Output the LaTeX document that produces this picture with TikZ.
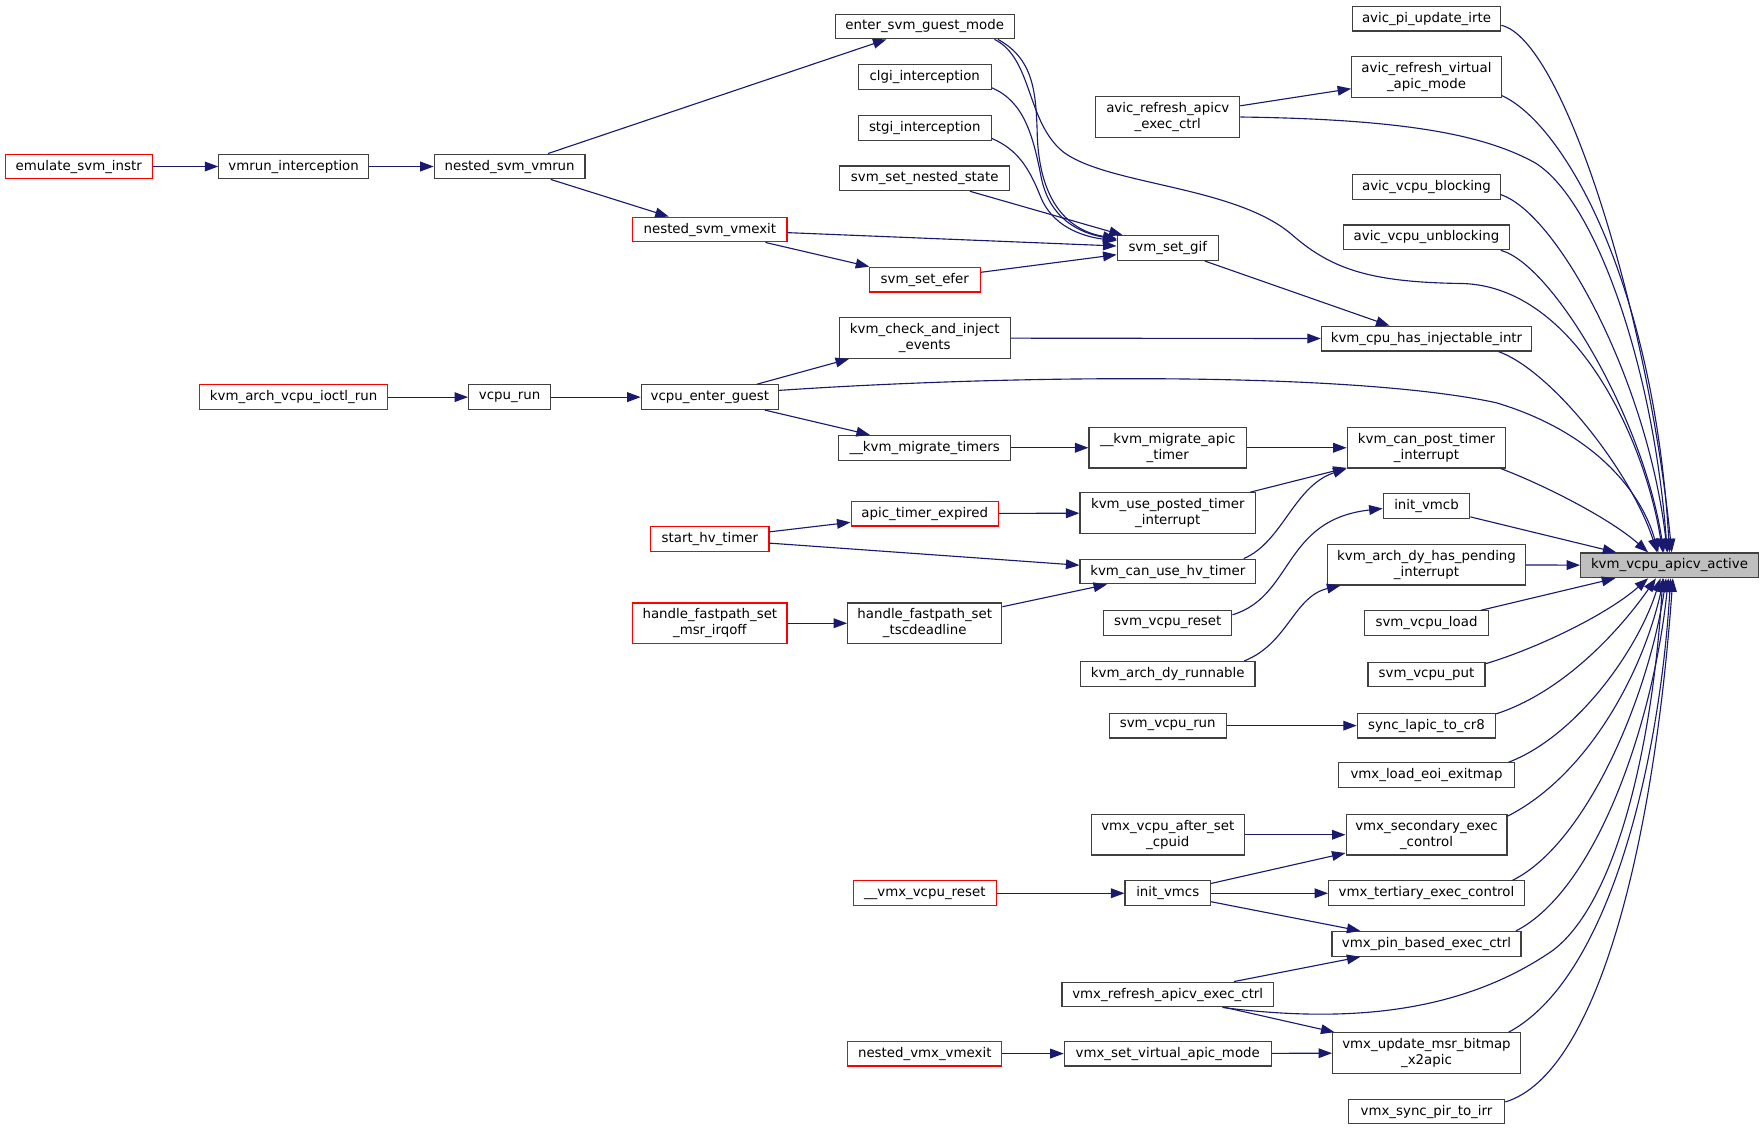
\documentclass[tikz,border=0pt]{standalone}
\usepackage{fontspec}
\setmainfont{DejaVu Sans}
\usetikzlibrary{arrows.meta,calc}
\definecolor{edgec}{RGB}{25,25,112}
\definecolor{boxc}{RGB}{64,64,64}
\definecolor{graybg}{RGB}{191,191,191}
\newcommand{\nodefont}{\fontsize{8.9pt}{10.5pt}\selectfont}
\tikzset{
  box/.style={draw=boxc, line width=0.75pt, fill=white, inner sep=0pt, align=center, font=\nodefont, minimum height=16.5pt, text=black},
  redbox/.style={box, draw=red},
  tall/.style={minimum height=27pt},
  bw/.style={minimum width=#1*0.75pt},
  conn/.style={draw=edgec, line width=0.75pt, -{Triangle[length=9pt,width=6.5pt]}},
}
\begin{document}
\begin{tikzpicture}[x=0.75pt,y=-0.75pt]
\useasboundingbox (0,0) rectangle (1568,1005.3);
% target
\node[box,bw=158,fill=graybg] (apicv) at (1484,502.5) {kvm\_vcpu\_apicv\_active};
% right column
\node[box,bw=132] (pi) at (1268,16.5) {avic\_pi\_update\_irte};
\node[box,bw=133,tall] (arvam) at (1268,68.5) {avic\_refresh\_virtual\\\_apic\_mode};
\node[box,bw=131] (blk) at (1268,166) {avic\_vcpu\_blocking};
\node[box,bw=147] (unblk) at (1268,211) {avic\_vcpu\_unblocking};
\node[box,bw=187] (inj) at (1268,301) {kvm\_cpu\_has\_injectable\_intr};
\node[box,bw=141,tall] (canpost) at (1268,398) {kvm\_can\_post\_timer\\\_interrupt};
\node[box,bw=77] (vmcb) at (1268,450) {init\_vmcb};
\node[box,bw=176,tall] (dypend) at (1268,502) {kvm\_arch\_dy\_has\_pending\\\_interrupt};
\node[box,bw=110] (load) at (1268,554) {svm\_vcpu\_load};
\node[box,bw=104] (put) at (1268,599.5) {svm\_vcpu\_put};
\node[box,bw=123] (cr8) at (1268,645) {sync\_lapic\_to\_cr8};
\node[box,bw=157] (eoi) at (1268,689) {vmx\_load\_eoi\_exitmap};
\node[box,bw=143,tall] (sec) at (1268,742) {vmx\_secondary\_exec\\\_control};
\node[box,bw=174] (ter) at (1268,794) {vmx\_tertiary\_exec\_control};
\node[box,bw=168] (pin) at (1268,839) {vmx\_pin\_based\_exec\_ctrl};
\node[box,bw=167,tall] (x2) at (1268,936) {vmx\_update\_msr\_bitmap\\\_x2apic};
\node[box,bw=139] (pir) at (1268,988) {vmx\_sync\_pir\_to\_irr};
% middle-right column
\node[box,bw=128,tall] (arac) at (1038,104) {avic\_refresh\_apicv\\\_exec\_ctrl};
\node[box,bw=90] (gif) at (1038,220.5) {svm\_set\_gif};
\node[box,bw=140,tall] (mapic) at (1038,398) {\_\_kvm\_migrate\_apic\\\_timer};
\node[box,bw=156,tall] (posted) at (1038,456) {kvm\_use\_posted\_timer\\\_interrupt};
\node[box,bw=156] (canhv) at (1038,508) {kvm\_can\_use\_hv\_timer};
\node[box,bw=114] (vreset) at (1038,553.5) {svm\_vcpu\_reset};
\node[box,bw=155] (dyrun) at (1038,599) {kvm\_arch\_dy\_runnable};
\node[box,bw=104] (vrun) at (1038,645) {svm\_vcpu\_run};
\node[box,bw=136,tall] (cpuid) at (1038,742) {vmx\_vcpu\_after\_set\\\_cpuid};
\node[box,bw=76] (vmcs) at (1038,794) {init\_vmcs};
\node[box,bw=188] (vrac) at (1038,884) {vmx\_refresh\_apicv\_exec\_ctrl};
\node[box,bw=184] (vsvam) at (1038,936.5) {vmx\_set\_virtual\_apic\_mode};
% middle column
\node[box,bw=159] (enter) at (822,23.5) {enter\_svm\_guest\_mode};
\node[box,bw=118] (clgi) at (822,68.5) {clgi\_interception};
\node[box,bw=118] (stgi) at (822,113.5) {stgi\_interception};
\node[box,bw=151] (nstate) at (822,158.5) {svm\_set\_nested\_state};
\node[redbox,bw=99] (efer) at (822,248.5) {svm\_set\_efer};
\node[box,bw=152,tall] (check) at (822,300.5) {kvm\_check\_and\_inject\\\_events};
\node[box,bw=153] (mtimers) at (822,398) {\_\_kvm\_migrate\_timers};
\node[redbox,bw=131] (ate) at (822,456.5) {apic\_timer\_expired};
\node[box,bw=137,tall] (tsc) at (822,554) {handle\_fastpath\_set\\\_tscdeadline};
\node[redbox,bw=127] (vxreset) at (822,794) {\_\_vmx\_vcpu\_reset};
\node[redbox,bw=137] (nvx) at (822,936.5) {nested\_vmx\_vmexit};
% column 631
\node[redbox,bw=137] (nsvmexit) at (631,204) {nested\_svm\_vmexit};
\node[box,bw=122] (veg) at (631,353) {vcpu\_enter\_guest};
\node[redbox,bw=105] (shv) at (631,479) {start\_hv\_timer};
\node[redbox,bw=137,tall] (msrirq) at (631,554) {handle\_fastpath\_set\\\_msr\_irqoff};
% column 453
\node[box,bw=134] (nsvmrun) at (453,148) {nested\_svm\_vmrun};
\node[box,bw=73] (vcpurun) at (453,353) {vcpu\_run};
% column 261
\node[box,bw=133] (vmrun) at (261,148) {vmrun\_interception};
\node[redbox,bw=167] (ioctl) at (261,353) {kvm\_arch\_vcpu\_ioctl\_run};
% column 70
\node[redbox,bw=131] (emu) at (70,148) {emulate\_svm\_instr};

% straight connectors
\draw[conn] (emu) -- (vmrun);
\draw[conn] (vmrun) -- (nsvmrun);
\draw[conn] (nsvmrun) -- (enter);
\draw[conn] (nsvmrun) -- (nsvmexit);
\draw[conn] (nstate) -- (gif);
\draw[conn] (nsvmexit) -- (gif);
\draw[conn] (nsvmexit) -- (efer);
\draw[conn] (efer) -- (gif);
\draw[conn] (gif) -- (inj);
\draw[conn] (arac) -- (arvam);
\draw[conn] (check) -- (inj);
\draw[conn] (veg) -- (check);
\draw[conn] (veg) -- (mtimers);
\draw[conn] (ioctl) -- (vcpurun);
\draw[conn] (vcpurun) -- (veg);
\draw[conn] (mtimers) -- (mapic);
\draw[conn] (mapic) -- (canpost);
\draw[conn] (posted) -- (canpost);
\draw[conn] (ate) -- (posted);
\draw[conn] (shv) -- (ate);
\draw[conn] (shv) -- (canhv);
\draw[conn] (msrirq) -- (tsc);
\draw[conn] (tsc) -- (canhv);
\draw[conn] (vrun) -- (cr8);
\draw[conn] (cpuid) -- (sec);
\draw[conn] (vmcs) -- (sec);
\draw[conn] (vmcs) -- (ter);
\draw[conn] (vmcs) -- (pin);
\draw[conn] (vxreset) -- (vmcs);
\draw[conn] (vrac) -- (pin);
\draw[conn] (vrac) -- (x2);
\draw[conn] (vsvam) -- (x2);
\draw[conn] (nvx) -- (vsvam);
\draw[conn] (vmcb) -- (apicv);
\draw[conn] (dypend) -- (apicv);
\draw[conn] (load) -- (apicv);

% curved connectors
\draw[conn] ($(enter.south)+(65,0)$) .. controls (918,52) and (921,80) .. (922,120)
  .. controls (924,180) and (950,205) .. ($(gif.north west)+(0,3)$);
\draw[conn] ($(enter.south)+(62,0)$) .. controls (918,52) and (912,108) .. (945,135)
  .. controls (985,165) and (1100,165) .. (1150,210)
  .. controls (1185,240) and (1220,251) .. (1300,252)
  .. controls (1400,255) and (1462,390) .. ($(apicv.north)+(-6,0)$);
\draw[conn] ($(clgi.south east)+(0,-2)$) .. controls (910,90) and (918,120) .. (925,155)
  .. controls (932,195) and (960,207) .. ($(gif.north west)+(0,4)$);
\draw[conn] ($(stgi.south east)+(0,-2)$) .. controls (905,133) and (915,150) .. (925,175)
  .. controls (935,200) and (960,210) .. ($(gif.north west)+(0,5)$);
\draw[conn] (arac.east) .. controls (1250,106) and (1320,120) .. (1365,145)
  .. controls (1420,180) and (1470,330) .. ($(apicv.north)+(-2,0)$);
\draw[conn] ($(veg.east)+(0,-6)$) .. controls (900,333) and (1200,330) .. (1330,358)
  .. controls (1420,385) and (1460,440) .. ($(apicv.north)+(-10,0)$);
\draw[conn] ($(canhv.north east)+(-11,0)$) .. controls (1140,482) and (1150,432) .. (canpost.south west);
\draw[conn] ($(vreset.east)+(0,-7)$) .. controls (1150,530) and (1140,462) .. ($(vmcb.west)+(0,2)$);
\draw[conn] ($(dyrun.north east)+(-10,0)$) .. controls (1145,572) and (1150,530) .. ($(dypend.south west)+(12,0)$);
\draw[conn] ($(vrac.south east)+(-46,0)$) .. controls (1200,910) and (1300,900) .. (1380,845)
  .. controls (1440,800) and (1470,650) .. ($(apicv.south)+(-6,0)$);
% right column to target
\draw[conn] ($(pi.east)+(0,6)$) .. controls (1390,35) and (1465,280) .. ($(apicv.north)+(2,0)$);
\draw[conn] ($(arvam.south east)+(0,-2)$) .. controls (1390,110) and (1470,250) .. (apicv.north);
\draw[conn] ($(blk.east)+(0,7)$) .. controls (1385,190) and (1465,340) .. ($(apicv.north)+(-2,0)$);
\draw[conn] ($(unblk.south east)+(-8,0)$) .. controls (1380,235) and (1460,370) .. ($(apicv.north)+(-5,0)$);
\draw[conn] ($(inj.south east)+(-30,0)$) .. controls (1380,330) and (1450,420) .. ($(apicv.north)+(-11,0)$);
\draw[conn] ($(canpost.south east)+(-5,0)$) .. controls (1370,430) and (1430,460) .. ($(apicv.north)+(-19,0)$);
\draw[conn] ($(put.north east)+(0,2)$) .. controls (1370,575) and (1430,545) .. ($(apicv.south)+(-19,0)$);
\draw[conn] ($(cr8.north east)+(0,1)$) .. controls (1390,615) and (1440,560) .. ($(apicv.south)+(-12,0)$);
\draw[conn] ($(eoi.north east)+(-6,0)$) .. controls (1400,655) and (1455,580) .. ($(apicv.south)+(-8,0)$);
\draw[conn] ($(sec.north east)+(0,2)$) .. controls (1410,690) and (1460,600) .. ($(apicv.south)+(-5,0)$);
\draw[conn] ($(ter.north east)+(-11,0)$) .. controls (1410,750) and (1465,620) .. ($(apicv.south)+(-3,0)$);
\draw[conn] ($(pin.north east)+(-5,0)$) .. controls (1420,790) and (1470,640) .. ($(apicv.south)+(-1,0)$);
\draw[conn] ($(x2.north east)+(-11,0)$) .. controls (1430,870) and (1475,680) .. ($(apicv.south)+(1,0)$);
\draw[conn] ($(pir.north east)+(0,3)$) .. controls (1420,955) and (1470,750) .. ($(apicv.south)+(3,0)$);
\end{tikzpicture}
\end{document}
